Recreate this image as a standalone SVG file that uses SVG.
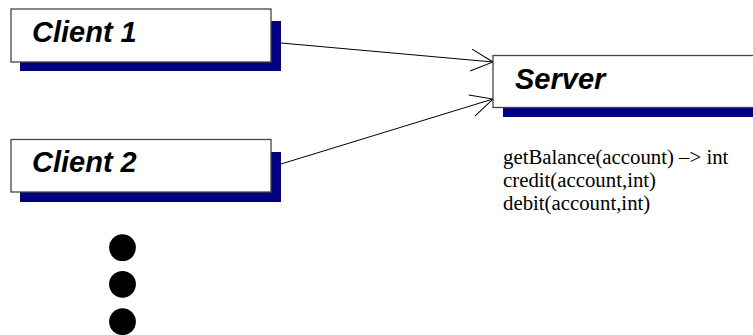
<svg xmlns="http://www.w3.org/2000/svg" width="753" height="335" viewBox="0 0 753 335">
<style>
.shadow{fill:#000080;stroke:none}
.box{fill:#ffffff;stroke:#444444;stroke-width:1.3}
.title{font-family:"Liberation Sans",Arial,sans-serif;font-weight:bold;font-style:italic;font-size:29px;fill:#000000}
.ops{font-family:"Liberation Serif","Times New Roman",serif;font-size:20.8px;fill:#000000}
.conn{stroke:#000000;stroke-width:1;fill:none;marker-end:url(#open)}
</style>
<defs>
<marker id="open" markerUnits="userSpaceOnUse" markerWidth="30" markerHeight="30" viewBox="-25 -15 30 30" refX="0" refY="0" orient="auto" overflow="visible">
<path d="M -22,-11 L 0,0 L -22,11" fill="none" stroke="#000000" stroke-width="1"/>
</marker>
</defs>
<g id="connectors">
<line class="conn" x1="281" y1="43" x2="493" y2="62"/>
<line class="conn" x1="281" y1="164" x2="493" y2="99"/>
</g>
<g id="client1">
<rect class="shadow" x="20" y="21" width="261" height="50"/>
<rect class="box" x="11" y="9" width="260" height="53"/>
<text class="title" x="32" y="42">Client 1</text>
</g>
<g id="client2">
<rect class="shadow" x="20" y="152" width="261" height="50"/>
<rect class="box" x="11" y="139.5" width="260" height="52.5"/>
<text class="title" x="32" y="172">Client 2</text>
</g>
<g id="server">
<rect class="shadow" x="503" y="67" width="260" height="50"/>
<rect class="box" x="493" y="55.5" width="270" height="52"/>
<text class="title" x="515" y="89">Server</text>
<text class="ops" x="503" y="163.5">getBalance(account) –&gt; int</text>
<text class="ops" x="503" y="186.8">credit(account,int)</text>
<text class="ops" x="503" y="210">debit(account,int)</text>
</g>
<g id="ellipsis">
<circle cx="122.5" cy="247.7" r="13.4" fill="#000000"/>
<circle cx="122.5" cy="284.3" r="13.4" fill="#000000"/>
<circle cx="122.5" cy="321.7" r="13.4" fill="#000000"/>
</g>
</svg>
